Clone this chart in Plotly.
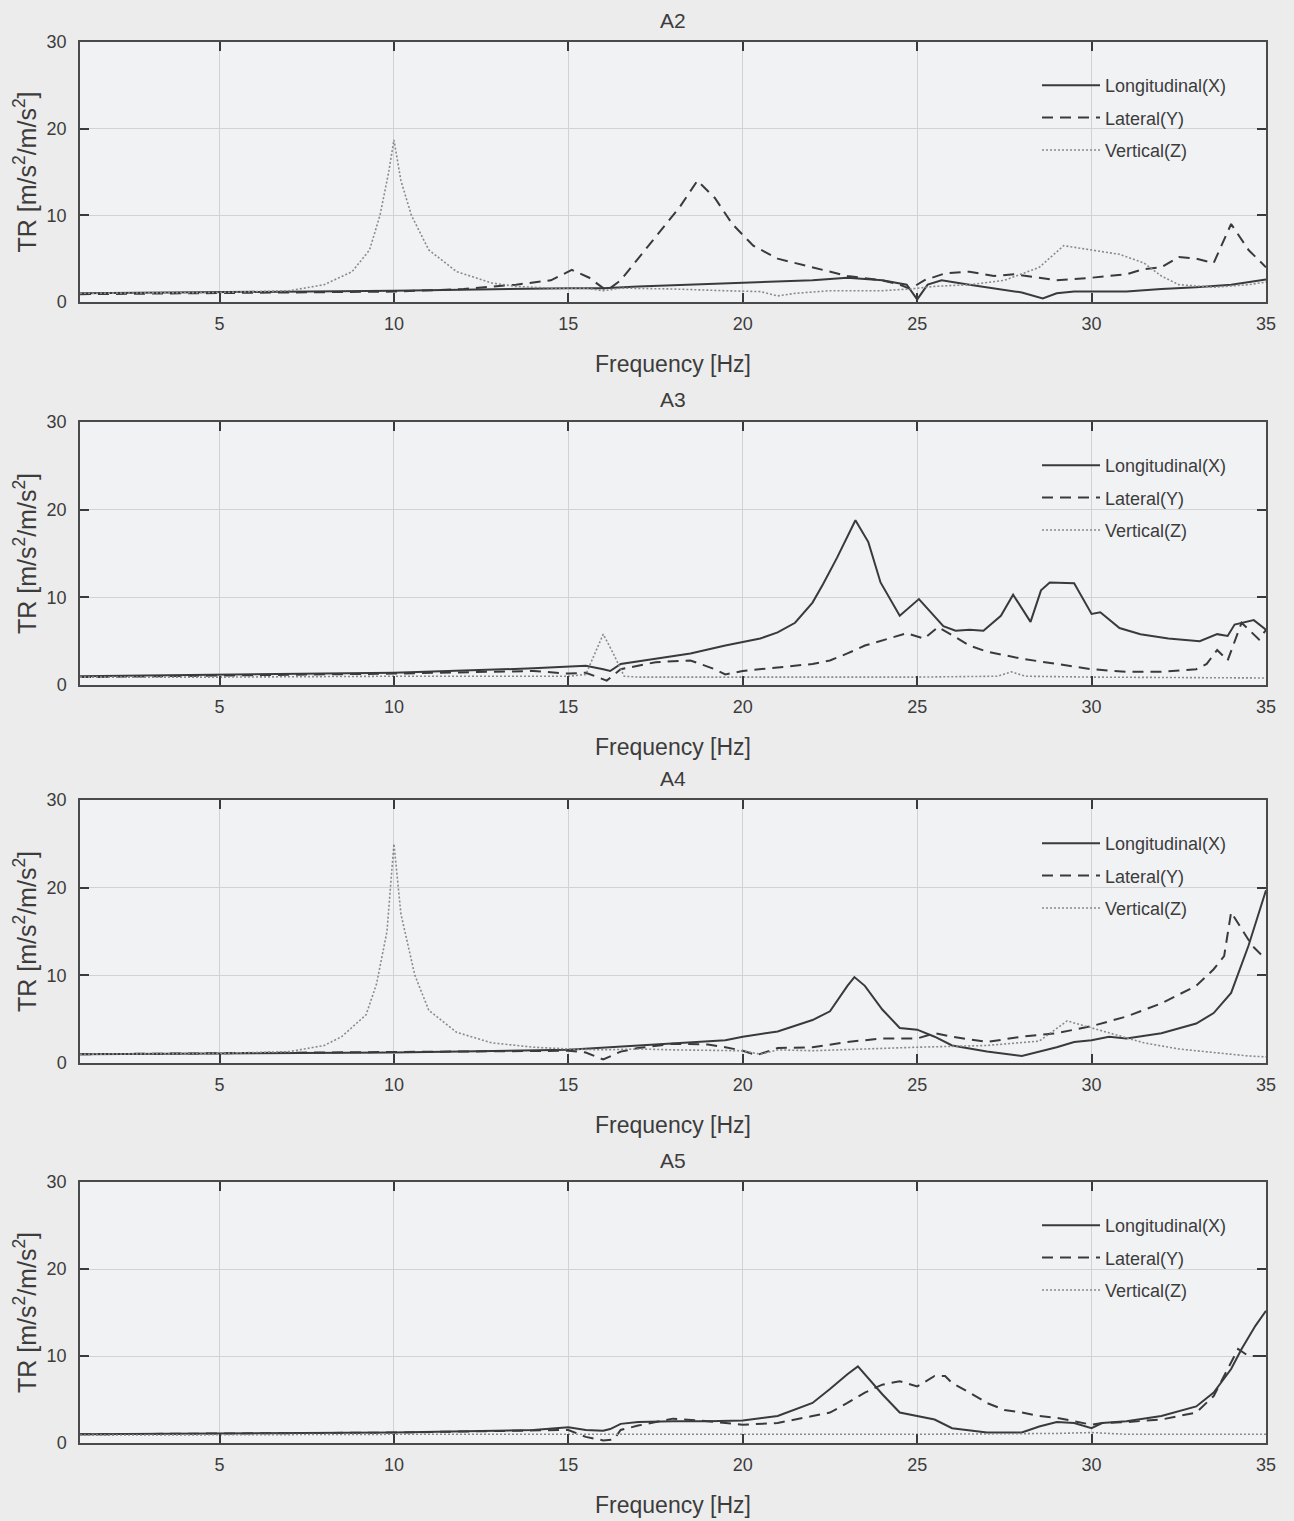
import plotly.graph_objects as go

# ---------------- data ----------------
titles = ["A2", "A3", "A4", "A5"]
series_names = ["Longitudinal(X)", "Lateral(Y)", "Vertical(Z)"]
x_ticks = [5, 10, 15, 20, 25, 30, 35]
y_ticks = [0, 10, 20, 30]

# A2
a2_long_f = [1, 5, 10, 15, 16, 17, 20, 22, 23, 24, 24.7, 25.0, 25.3, 25.7, 26.5, 27.5, 28, 28.6, 29, 29.5, 31, 32, 33, 34, 35]
a2_long_tr = [1.0, 1.1, 1.3, 1.6, 1.6, 1.8, 2.2, 2.5, 2.8, 2.5, 2.0, 0.3, 2.0, 2.5, 2.0, 1.4, 1.1, 0.4, 1.0, 1.2, 1.2, 1.5, 1.7, 2.0, 2.6]
a2_lat_f = [1, 5, 10, 12, 13.5, 14.5, 15.1, 15.6, 16.1, 16.5, 17, 17.6, 18.2, 18.7, 19.2, 19.7, 20.3, 21, 22, 23, 24, 24.5, 24.8, 25.2, 25.8, 26.5, 27.2, 27.8, 28.5, 29, 30, 31, 31.5, 32, 32.5, 33, 33.5, 34, 34.5, 35]
a2_lat_tr = [0.9, 1.0, 1.2, 1.5, 2.0, 2.5, 3.7, 2.8, 1.3, 2.5, 5.0, 8.0, 11.0, 14.0, 12.0, 9.0, 6.5, 5.0, 4.0, 3.0, 2.5, 2.0, 1.5, 2.5, 3.3, 3.5, 3.0, 3.2, 2.8, 2.5, 2.8, 3.2, 3.8, 4.0, 5.2, 5.0, 4.5, 9.0, 6.0, 4.0]
a2_vert_f = [1, 5, 7, 8, 8.8, 9.3, 9.6, 9.85, 10, 10.2, 10.5, 11, 11.8, 12.8, 13.5, 14.5, 15.5, 16, 16.5, 18, 19.5, 20.5, 21, 21.5, 22.5, 24, 24.8, 25.5, 26.5, 27.5, 28.5, 29.2, 30, 30.8, 31.5, 32, 32.5, 33.5, 34.5, 35]
a2_vert_tr = [1.0, 1.1, 1.3, 2.0, 3.5, 6.0, 10.0, 15.0, 18.7, 14.0, 10.0, 6.0, 3.5, 2.2, 1.8, 1.6, 1.6, 1.3, 1.6, 1.5, 1.3, 1.2, 0.7, 1.0, 1.3, 1.3, 1.5, 1.8, 2.0, 2.5, 4.0, 6.5, 6.0, 5.5, 4.5, 3.0, 2.0, 1.7, 2.0, 2.3]

# A3
a3_long_f = [1, 5, 10, 14, 15, 15.5, 16, 16.2, 16.5, 17.5, 18.5, 19.5, 20, 20.5, 21, 21.5, 22, 22.3, 22.7, 23.23, 23.6, 23.95, 24.5, 25.05, 25.75, 26.1, 26.5, 26.9, 27.4, 27.75, 28.25, 28.55, 28.8, 29.5, 30.0, 30.25, 30.8, 31.4, 32.2, 33.1, 33.6, 33.9, 34.1, 34.65, 35]
a3_long_tr = [1.0, 1.2, 1.4, 1.9, 2.1, 2.2, 1.8, 1.6, 2.4, 3.0, 3.6, 4.5, 4.9, 5.3, 6.0, 7.1, 9.4, 11.5, 14.5, 18.8, 16.3, 11.7, 7.9, 9.8, 6.7, 6.2, 6.3, 6.2, 7.9, 10.3, 7.2, 10.8, 11.7, 11.6, 8.1, 8.3, 6.5, 5.8, 5.3, 5.0, 5.8, 5.6, 6.9, 7.4, 6.3]
a3_lat_f = [1, 5, 10, 14, 15, 15.5, 16.1, 16.5, 17.5, 18.5, 19.2, 19.5, 20, 21, 22, 22.5, 23, 23.5, 24, 24.7, 25.2, 25.6, 26, 26.5, 27, 28, 29, 30, 31, 32, 33, 33.3, 33.6, 33.9, 34.3, 34.8, 35]
a3_lat_tr = [0.9, 1.1, 1.3, 1.6, 1.3, 1.4, 0.5, 1.8, 2.6, 2.8, 1.8, 1.2, 1.6, 2.0, 2.4, 2.8, 3.6, 4.5, 5.1, 5.9, 5.3, 6.6, 5.7, 4.5, 3.8, 3.0, 2.4, 1.8, 1.5, 1.5, 1.8, 2.4, 4.0, 2.8, 7.1, 5.2, 6.3]
a3_vert_f = [1, 5, 10, 15, 15.5, 15.8, 16.0, 16.3, 16.6, 17, 20, 25, 27.3, 27.7, 28.1, 30, 35]
a3_vert_tr = [0.9, 0.9, 1.0, 1.0, 1.2, 4.0, 5.8, 3.5, 1.0, 0.9, 0.9, 0.9, 1.0, 1.5, 1.0, 0.9, 0.8]

# A4
a4_long_f = [1, 5, 10, 15, 17, 18.5, 19.5, 20, 21, 22, 22.5, 23, 23.2, 23.5, 24, 24.5, 25, 25.5, 26, 27, 28, 29, 29.5, 30, 30.5, 31, 32, 33, 33.5, 34, 34.5, 35]
a4_long_tr = [1.0, 1.1, 1.2, 1.5, 2.0, 2.3, 2.6, 3.0, 3.6, 4.9, 5.9, 8.8, 9.8, 8.8, 6.1, 4.0, 3.8, 3.0, 2.0, 1.3, 0.8, 1.8, 2.4, 2.6, 3.0, 2.8, 3.4, 4.5, 5.7, 8.0, 13.4, 19.7]
a4_lat_f = [1, 5, 10, 15, 15.5, 16, 16.5, 17, 18, 19, 19.5, 20, 20.4, 21, 22, 23, 24, 25, 25.5, 26, 27, 28, 29, 30, 31, 32, 33, 33.5, 33.8, 34.0, 34.3, 34.6, 35]
a4_lat_tr = [1.0, 1.1, 1.2, 1.4, 1.2, 0.4, 1.3, 1.7, 2.2, 2.1, 1.8, 1.4, 0.9, 1.7, 1.8, 2.4, 2.8, 2.8, 3.4, 3.0, 2.4, 3.0, 3.4, 4.2, 5.3, 6.8, 8.8, 10.7, 12.2, 17.2, 15.3, 13.4, 11.8]
a4_vert_f = [1, 5, 7, 8, 8.5, 9.2, 9.5, 9.8, 10, 10.2, 10.6, 11, 11.8, 12.8, 14, 15, 16, 17, 18, 20, 20.5, 21, 22, 24, 25, 27, 28.5, 29.3, 30, 30.5, 31.5, 32.5, 33.5, 34.5, 35]
a4_vert_tr = [1.0, 1.1, 1.3, 2.0, 3.0, 5.5, 9.0, 15.0, 25.0, 17.0, 10.0, 6.0, 3.5, 2.3, 1.8, 1.6, 1.5, 1.6, 1.5, 1.4, 1.0, 1.5, 1.4, 1.7, 1.8, 2.0, 2.5, 4.8, 4.0, 3.5, 2.3, 1.6, 1.2, 0.8, 0.7]

# A5
a5_long_f = [1, 5, 10, 14, 15, 15.5, 16, 16.2, 16.5, 17, 18, 19, 20, 21, 22, 22.5, 23, 23.3, 23.7, 24, 24.5, 25, 25.5, 26, 27, 28, 28.5, 29, 29.5, 30, 30.3, 31, 32, 33, 33.5, 34, 34.3, 34.7, 35]
a5_long_tr = [1.0, 1.1, 1.2, 1.5, 1.8, 1.5, 1.4, 1.6, 2.2, 2.4, 2.5, 2.5, 2.6, 3.1, 4.6, 6.2, 7.9, 8.8, 6.9, 5.6, 3.5, 3.1, 2.7, 1.7, 1.2, 1.2, 1.9, 2.4, 2.3, 1.7, 2.3, 2.5, 3.1, 4.2, 5.8, 8.5, 10.8, 13.5, 15.2]
a5_lat_f = [1, 5, 10, 15, 15.5, 16, 16.3, 16.5, 17, 18, 19, 20, 21, 22, 22.5, 23, 23.5, 24, 24.5, 25, 25.5, 25.8, 26, 26.5, 27, 27.5, 28, 28.5, 29, 29.5, 30, 30.3, 31, 32, 33, 33.5, 34, 34.2, 34.5, 35]
a5_lat_tr = [1.0, 1.1, 1.2, 1.5, 0.7, 0.3, 0.4, 1.5, 2.0, 2.8, 2.5, 2.1, 2.3, 3.1, 3.5, 4.6, 5.8, 6.7, 7.1, 6.5, 7.7, 7.7, 6.9, 5.8, 4.6, 3.8, 3.5, 3.1, 2.9, 2.5, 2.1, 2.3, 2.4, 2.7, 3.5, 5.4, 9.2, 10.8, 10.0, 10.0]
a5_vert_f = [1, 10, 20, 25, 29, 30, 31, 35]
a5_vert_tr = [0.9, 1.0, 1.0, 1.0, 1.1, 1.2, 1.0, 1.0]

panels = [
    [(a2_long_f, a2_long_tr), (a2_lat_f, a2_lat_tr), (a2_vert_f, a2_vert_tr)],
    [(a3_long_f, a3_long_tr), (a3_lat_f, a3_lat_tr), (a3_vert_f, a3_vert_tr)],
    [(a4_long_f, a4_long_tr), (a4_lat_f, a4_lat_tr), (a4_vert_f, a4_vert_tr)],
    [(a5_long_f, a5_long_tr), (a5_lat_f, a5_lat_tr), (a5_vert_f, a5_vert_tr)],
]

# ---------------- styling ----------------
W, H = 1294, 1521
FONT = "Liberation Sans, Arial, sans-serif"
TXT = "#3c3c3c"
LINE_STYLES = [
    dict(color="#3a3a3a", width=2.0, dash="solid"),
    dict(color="#3a3a3a", width=2.0, dash="11px,7px"),
    dict(color="#8a8a8a", width=1.6, dash="2px,2px"),
]
# plot-area pixel boxes (top, bottom)
boxes = [(42, 302), (422, 685), (800, 1063), (1182, 1443)]
left_px, right_px = 80, 1266

fig = go.Figure()
layout = dict(
    width=W, height=H, autosize=False,
    margin=dict(l=0, r=0, t=0, b=0, pad=0, autoexpand=False),
    paper_bgcolor="#ececec",
    plot_bgcolor="#f1f2f4",
    font=dict(family=FONT, size=18, color=TXT),
    showlegend=True,
    annotations=[],
)

for i, (title, series) in enumerate(zip(titles, panels)):
    n = i + 1
    xa = "x" if n == 1 else f"x{n}"
    ya = "y" if n == 1 else f"y{n}"
    lg = "legend" if n == 1 else f"legend{n}"
    for j, ((f, tr), name) in enumerate(zip(series, series_names)):
        fig.add_trace(go.Scatter(
            x=f, y=tr, mode="lines", name=name,
            line=LINE_STYLES[j], xaxis=xa, yaxis=ya,
            legend=lg, legendgroup=f"{title}{j}",
        ))
    top, bot = boxes[i]
    common = dict(
        showline=True, linecolor="#4a4a4a", linewidth=1.5, mirror="ticks",
        ticks="inside", ticklen=9, tickwidth=1.5, tickcolor="#3a3a3a",
        showgrid=True, gridcolor="#d2d2d2", gridwidth=1, automargin=False,
        zeroline=False, tickfont=dict(family=FONT, size=18, color=TXT),
    )
    layout["xaxis" if n == 1 else f"xaxis{n}"] = dict(
        common, domain=[left_px / W, right_px / W], range=[1, 35],
        tickvals=x_ticks, anchor=ya, ticklabelstandoff=5,
        title=dict(text="Frequency [Hz]", font=dict(family=FONT, size=23, color=TXT), standoff=23),
    )
    layout["yaxis" if n == 1 else f"yaxis{n}"] = dict(
        common, domain=[1 - bot / H, 1 - top / H], range=[0, 30],
        tickvals=y_ticks, anchor=xa, ticklabelstandoff=8,
        title=dict(text="TR [m/s<sup>2</sup>/m/s<sup>2</sup>]", font=dict(family=FONT, size=25, color=TXT), standoff=3),
    )
    layout[lg] = dict(
        x=1037 / W, y=1 - (top + 25) / H, xanchor="left", yanchor="top",
        bgcolor="rgba(0,0,0,0)", borderwidth=0,
        font=dict(family=FONT, size=18, color=TXT),
        tracegroupgap=6, itemwidth=58,
    )
    layout["annotations"].append(dict(
        text=title, x=(left_px + right_px) / 2 / W, y=1 - (top - 22) / H,
        xref="paper", yref="paper", xanchor="center", yanchor="middle",
        showarrow=False, font=dict(family=FONT, size=21, color=TXT),
    ))

fig.update_layout(**layout)
fig.write_html(
    "out.html",
    config={"displayModeBar": False},
    post_script="document.body.style.margin='0';document.body.style.padding='0';",
)
